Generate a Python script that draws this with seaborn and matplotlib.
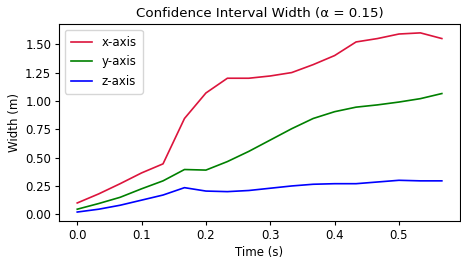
import numpy as np
import pandas as pd
import matplotlib
matplotlib.use("Agg")
import matplotlib.pyplot as plt
import seaborn as sns

# === Data ===
time_s = [i / 30 for i in range(18)]
x_width = [0.10, 0.18, 0.27, 0.365, 0.445, 0.845, 1.07, 1.20, 1.20, 1.22,
           1.25, 1.32, 1.40, 1.52, 1.55, 1.59, 1.60, 1.55]
y_width = [0.045, 0.095, 0.15, 0.225, 0.295, 0.395, 0.39, 0.465, 0.555, 0.655,
           0.755, 0.845, 0.905, 0.945, 0.965, 0.99, 1.02, 1.065]
z_width = [0.02, 0.045, 0.08, 0.125, 0.17, 0.235, 0.205, 0.20, 0.21, 0.23,
           0.25, 0.265, 0.27, 0.27, 0.285, 0.30, 0.295, 0.295]
axes_names = ["x-axis", "y-axis", "z-axis"]
colors = ["crimson", "green", "blue"]

df = pd.DataFrame({
    "Time": time_s * 3,
    "Width": x_width + y_width + z_width,
    "Axis": np.repeat(axes_names, len(time_s)),
})

# reference looks like a default matplotlib figure shrunk to ~80%
plt.rcParams.update({
    "font.size": 8.5,
    "axes.titlesize": 9.6,
    "axes.labelsize": 8.5,
    "xtick.labelsize": 8.5,
    "ytick.labelsize": 8.5,
    "legend.fontsize": 8.5,
    "lines.linewidth": 1.2,
    "axes.linewidth": 0.8,
    "xtick.major.size": 2.8,
    "ytick.major.size": 2.8,
    "xtick.major.pad": 2.8,
    "ytick.major.pad": 2.8,
})

# === Plot ===
fig = plt.figure(figsize=(4.61, 2.6), dpi=100)
ax = fig.add_axes([0.128, 0.15, 0.87, 0.758])
sns.lineplot(data=df, x="Time", y="Width", hue="Axis",
             palette=dict(zip(axes_names, colors)), ax=ax)

ax.set_title("Confidence Interval Width (α = 0.15)", pad=5)
ax.set_xlabel("Time (s)", labelpad=3)
ax.set_ylabel("Width (m)", labelpad=3)
ax.legend(loc="upper left", labelspacing=0.55, borderpad=0.5, handlelength=1.8)

fig.savefig("out.png", dpi=100)
